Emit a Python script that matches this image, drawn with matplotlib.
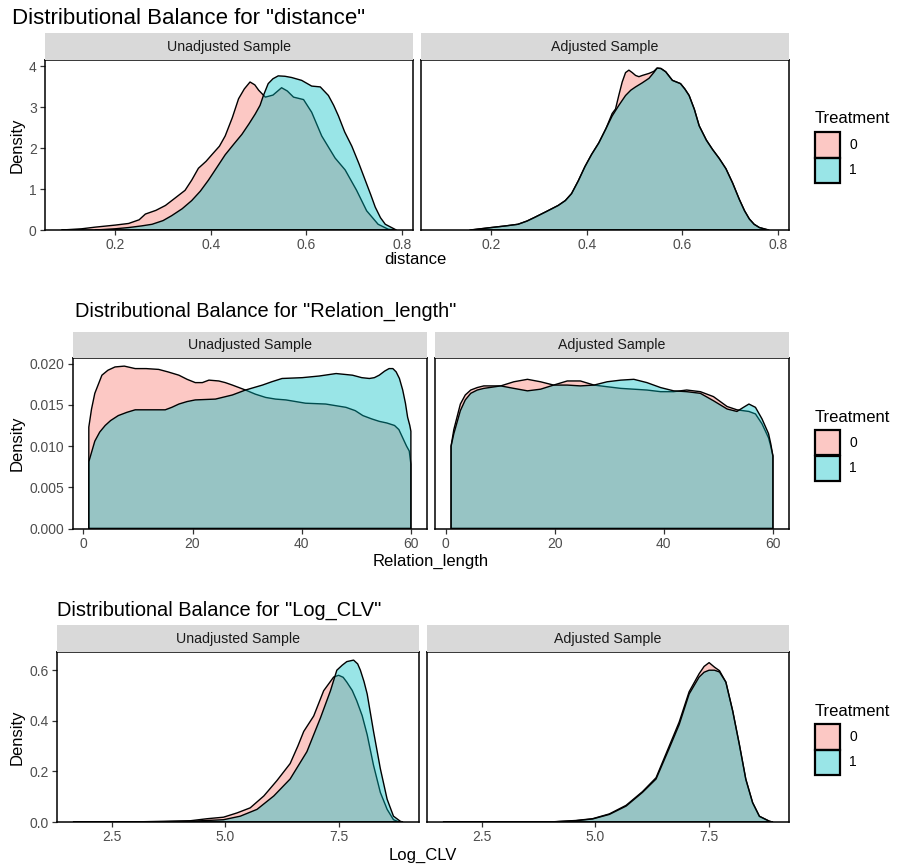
import matplotlib
matplotlib.use("Agg")
import matplotlib.pyplot as plt
from matplotlib.colors import to_rgba
from matplotlib.patches import Rectangle

plt.rcParams['font.family'] = ['Liberation Sans', 'DejaVu Sans']

# ---------------- data: density curves per treatment group ----------------
# distance
D_U0_X = [0.088, 0.13, 0.158, 0.20, 0.228, 0.25, 0.263, 0.285, 0.305, 0.325, 0.346, 0.36, 0.374, 0.39,
          0.402, 0.418, 0.43, 0.445, 0.458, 0.47, 0.482, 0.492, 0.50, 0.514, 0.53, 0.548, 0.56, 0.573,
          0.594, 0.611, 0.632, 0.66, 0.681, 0.705, 0.726, 0.75, 0.771, 0.785]
D_U0_Y = [0.0, 0.03, 0.07, 0.12, 0.16, 0.25, 0.39, 0.48, 0.60, 0.78, 0.97, 1.22, 1.51, 1.68,
          1.84, 2.05, 2.30, 2.75, 3.21, 3.45, 3.62, 3.55, 3.42, 3.25, 3.30, 3.48, 3.40, 3.25,
          3.19, 2.88, 2.30, 1.76, 1.47, 0.97, 0.47, 0.14, 0.02, 0.0]
D_U1_X = [0.158, 0.20, 0.228, 0.255, 0.277, 0.30, 0.318, 0.34, 0.36, 0.378, 0.395, 0.412, 0.43, 0.448,
          0.465, 0.48, 0.493, 0.503, 0.51, 0.52, 0.53, 0.541, 0.555, 0.569, 0.59, 0.611, 0.629, 0.646,
          0.657, 0.667, 0.68, 0.695, 0.71, 0.723, 0.735, 0.744, 0.755, 0.765, 0.788]
D_U1_Y = [0.0, 0.03, 0.06, 0.10, 0.14, 0.23, 0.35, 0.52, 0.72, 0.95, 1.22, 1.52, 1.84, 2.10,
          2.34, 2.60, 2.84, 3.05, 3.29, 3.58, 3.70, 3.77, 3.76, 3.73, 3.66, 3.52, 3.50, 3.29,
          3.05, 2.79, 2.40, 2.05, 1.62, 1.22, 0.85, 0.56, 0.30, 0.14, 0.0]
D_A0_X = [0.155, 0.20, 0.23, 0.256, 0.275, 0.291, 0.315, 0.34, 0.355, 0.368, 0.382, 0.396, 0.41, 0.425,
          0.44, 0.453, 0.46, 0.467, 0.474, 0.481, 0.488, 0.495, 0.502, 0.509, 0.516, 0.53, 0.54, 0.547,
          0.555, 0.565, 0.579, 0.596, 0.605, 0.614, 0.625, 0.635, 0.65, 0.663, 0.677, 0.691, 0.705,
          0.719, 0.73, 0.74, 0.75, 0.761, 0.779]
D_A0_Y = [0.0, 0.06, 0.10, 0.14, 0.22, 0.31, 0.45, 0.60, 0.72, 0.89, 1.20, 1.55, 1.85, 2.13,
          2.48, 2.85, 2.96, 3.30, 3.62, 3.85, 3.91, 3.85, 3.78, 3.75, 3.78, 3.83, 3.88, 3.96,
          3.95, 3.87, 3.66, 3.58, 3.45, 3.29, 2.95, 2.55, 2.20, 1.97, 1.75, 1.50, 1.15,
          0.75, 0.47, 0.27, 0.14, 0.06, 0.0]
D_A1_X = [0.158, 0.20, 0.23, 0.256, 0.275, 0.291, 0.315, 0.34, 0.355, 0.368, 0.382, 0.396, 0.41, 0.425,
          0.44, 0.453, 0.467, 0.481, 0.492, 0.502, 0.516, 0.53, 0.54, 0.547, 0.555, 0.565, 0.579,
          0.596, 0.605, 0.614, 0.625, 0.635, 0.65, 0.663, 0.677, 0.691, 0.705, 0.719, 0.73, 0.74,
          0.75, 0.761, 0.781]
D_A1_Y = [0.0, 0.06, 0.10, 0.14, 0.22, 0.31, 0.45, 0.60, 0.72, 0.89, 1.20, 1.55, 1.85, 2.13,
          2.48, 2.79, 3.05, 3.29, 3.42, 3.50, 3.60, 3.71, 3.85, 3.96, 3.95, 3.87, 3.66,
          3.58, 3.45, 3.29, 2.95, 2.55, 2.20, 1.97, 1.75, 1.50, 1.15, 0.75, 0.47, 0.27,
          0.14, 0.06, 0.0]

# Relation_length
R_U0_X = [1, 1.5, 2.1, 3.4, 4.5, 5.8, 7.5, 9.5, 11.5, 13.8, 15.5, 17.5, 19.0, 20.5, 21.8, 23.0, 24.8,
          26.0, 27.3, 29.7, 31.5, 33.4, 35.2, 37.1, 40.7, 44.4, 48.1, 49.8, 51.2, 52.8, 54.2, 55.6,
          57.0, 57.8, 58.5, 59.2, 59.7, 60]
R_U0_Y = [0.0123, 0.0145, 0.0164, 0.0186, 0.0192, 0.0196, 0.0197, 0.0194, 0.0194, 0.0193, 0.0190,
          0.0186, 0.0181, 0.0177, 0.0177, 0.0180, 0.0179, 0.0177, 0.0174, 0.0168, 0.0163, 0.0159,
          0.0157, 0.0156, 0.0152, 0.0151, 0.0147, 0.0143, 0.0137, 0.0133, 0.0130, 0.0128, 0.0125,
          0.0120, 0.0110, 0.0100, 0.0094, 0.0078]
R_U1_X = [1, 2.1, 3.0, 4.0, 5.0, 6.4, 8.0, 9.5, 12.6, 15.0, 16.2, 17.5, 19.0, 20.5, 24.2, 27.3, 29.7,
          32.8, 34.5, 36.4, 40.1, 43.2, 46.3, 49.3, 51.0, 52.4, 53.3, 54.2, 55.2, 56.0, 56.7, 57.3,
          57.9, 58.5, 59.0, 59.4, 59.8, 60]
R_U1_Y = [0.0081, 0.0106, 0.0117, 0.0125, 0.0131, 0.0137, 0.0141, 0.0144, 0.0144, 0.0144, 0.0147,
          0.0151, 0.0154, 0.0156, 0.0157, 0.0162, 0.0168, 0.0174, 0.0178, 0.0182, 0.0183, 0.0185,
          0.0188, 0.0186, 0.0183, 0.0182, 0.0183, 0.0186, 0.0191, 0.0194, 0.0194, 0.0190, 0.0182,
          0.0168, 0.0152, 0.0135, 0.0125, 0.0118]
R_A0_X = [1, 1.5, 2.7, 3.6, 4.6, 5.8, 7.0, 10.1, 12.5, 15.0, 17.4, 19.8, 22.3, 24.7, 27.2, 29.6, 32.1,
          34.5, 36.9, 39.4, 41.8, 44.2, 46.7, 49.1, 51.6, 53.4, 55.6, 56.8, 58.0, 59.2, 59.6, 60]
R_A0_Y = [0.0100, 0.0120, 0.0151, 0.0162, 0.0168, 0.0171, 0.0173, 0.0173, 0.0178, 0.0181, 0.0178,
          0.0174, 0.0179, 0.0179, 0.0174, 0.0172, 0.0170, 0.0169, 0.0168, 0.0166, 0.0166, 0.0168,
          0.0166, 0.0160, 0.0148, 0.0144, 0.0142, 0.0139, 0.0127, 0.0110, 0.0100, 0.0088]
R_A1_X = [1, 1.5, 2.7, 3.6, 4.6, 5.8, 7.0, 10.1, 12.5, 15.0, 17.4, 19.8, 22.3, 24.7, 27.2, 29.6, 32.1,
          34.5, 36.9, 39.4, 41.8, 44.2, 46.7, 49.1, 51.6, 53.4, 54.6, 55.6, 56.8, 58.0, 59.2, 59.6, 60]
R_A1_Y = [0.0100, 0.0115, 0.0143, 0.0156, 0.0164, 0.0168, 0.0170, 0.0173, 0.0170, 0.0167, 0.0169,
          0.0174, 0.0174, 0.0173, 0.0174, 0.0178, 0.0180, 0.0181, 0.0177, 0.0171, 0.0167, 0.0166,
          0.0164, 0.0155, 0.0145, 0.0142, 0.0147, 0.0151, 0.0147, 0.0133, 0.0115, 0.0103, 0.0088]

# Log_CLV
L_U0_X = [1.65, 3.0, 3.42, 4.23, 4.60, 4.96, 5.26, 5.55, 5.85, 6.14, 6.43, 6.60, 6.73, 6.95, 7.17, 7.39,
          7.50, 7.60, 7.68, 7.80, 7.90, 8.02, 8.13, 8.27, 8.42, 8.57, 8.71, 8.82, 8.91]
L_U0_Y = [0.0, 0.0005, 0.002, 0.005, 0.013, 0.019, 0.036, 0.056, 0.103, 0.164, 0.231, 0.30, 0.358,
          0.419, 0.519, 0.573, 0.580, 0.572, 0.553, 0.52, 0.479, 0.42, 0.345, 0.224, 0.117, 0.050,
          0.009, 0.001, 0.0]
L_U1_X = [1.65, 3.42, 4.23, 4.96, 5.33, 5.70, 6.07, 6.43, 6.80, 7.10, 7.32, 7.46, 7.58, 7.68, 7.83,
          7.92, 7.98, 8.06, 8.13, 8.27, 8.42, 8.57, 8.71, 8.86, 8.91]
L_U1_Y = [0.0, 0.0005, 0.003, 0.009, 0.023, 0.050, 0.103, 0.170, 0.278, 0.412, 0.519, 0.600, 0.620,
          0.634, 0.640, 0.625, 0.600, 0.555, 0.506, 0.358, 0.211, 0.090, 0.023, 0.003, 0.0]
L_A0_X = [1.65, 4.06, 4.57, 4.94, 5.31, 5.68, 6.04, 6.34, 6.63, 6.85, 7.07, 7.29, 7.40, 7.51, 7.63,
          7.74, 7.88, 8.03, 8.18, 8.32, 8.47, 8.62, 8.84, 8.91]
L_A0_Y = [0.0, 0.0008, 0.006, 0.013, 0.032, 0.066, 0.120, 0.175, 0.300, 0.395, 0.515, 0.586, 0.615,
          0.630, 0.612, 0.598, 0.553, 0.44, 0.303, 0.168, 0.076, 0.022, 0.003, 0.0]
L_A1_X = [1.65, 4.06, 4.57, 4.94, 5.31, 5.68, 6.04, 6.34, 6.63, 6.85, 7.07, 7.29, 7.40, 7.51, 7.63,
          7.74, 7.88, 8.03, 8.18, 8.32, 8.47, 8.62, 8.84, 8.91]
L_A1_Y = [0.0, 0.0005, 0.005, 0.012, 0.030, 0.063, 0.117, 0.170, 0.291, 0.385, 0.506, 0.573, 0.592,
          0.600, 0.600, 0.593, 0.553, 0.439, 0.305, 0.170, 0.077, 0.023, 0.003, 0.0]

FACETS = ["Unadjusted Sample", "Adjusted Sample"]
TREATMENTS = ["0", "1"]
COLORS = ["#F8766D", "#00BFC4"]

DIST_XTICKS = [0.2, 0.4, 0.6, 0.8]
DIST_YTICKS = [0, 1, 2, 3, 4]
REL_XTICKS = [0, 20, 40, 60]
REL_YTICKS = [0.0, 0.005, 0.010, 0.015, 0.020]
LOG_XTICKS = [2.5, 5.0, 7.5]
LOG_YTICKS = [0.0, 0.2, 0.4, 0.6]

# ---------------- figure ----------------
W, H = 898, 868
fig = plt.figure(figsize=(W / 100, H / 100), dpi=100)

TICK_COL = "#4D4D4D"
STRIP_COL = "#D9D9D9"


def fx(px):
    return px / W


def fy(py):
    return 1 - py / H


def draw_density(ax, xs, ys, color):
    xp = [xs[0]] + list(xs) + [xs[-1]]
    yp = [0.0] + list(ys) + [0.0]
    ax.fill(xp, yp, facecolor=to_rgba(color, 0.4), edgecolor="black",
            linewidth=1.0, joinstyle="round")


def draw_row(lay, title, xlabel, curves, xticks, xtickfmt, yticks, ytickfmt):
    # shared x range over both facets with 5% padding
    allx = [v for pair in curves for (cx, cy) in pair for v in cx]
    ally = [v for pair in curves for (cx, cy) in pair for v in cy]
    lo, hi = min(allx), max(allx)
    pad = 0.05 * (hi - lo)
    ytop = 1.05 * max(ally)

    fig.text(fx(lay["title_x"]), fy(lay["title_y"]), title, fontsize=lay["title_size"],
             ha="left", va="baseline", color="black")

    for k, (x0, x1) in enumerate(lay["cols"]):
        # strip
        fig.patches.append(Rectangle((fx(x0), fy(lay["ax_top"])), fx(x1) - fx(x0),
                                     fy(lay["strip_top"]) - fy(lay["ax_top"]),
                                     transform=fig.transFigure, facecolor=STRIP_COL,
                                     edgecolor="none"))
        fig.text((fx(x0) + fx(x1)) / 2, (fy(lay["strip_top"]) + fy(lay["ax_top"])) / 2,
                 FACETS[k], fontsize=10.2, ha="center", va="center", color="#1A1A1A")

        ax = fig.add_axes([fx(x0), fy(lay["ax_bot"]), fx(x1) - fx(x0),
                           fy(lay["ax_top"]) - fy(lay["ax_bot"])])
        for g, (cx, cy) in enumerate(curves[k]):
            draw_density(ax, cx, cy, COLORS[g])
        ax.set_xlim(lo - pad, hi + pad)
        ax.set_ylim(0, ytop)
        ax.set_xticks(xticks)
        ax.set_xticklabels([xtickfmt.format(t) for t in xticks])
        ax.set_yticks(yticks)
        if k == 0:
            ax.set_yticklabels([ytickfmt.format(t) for t in yticks])
        else:
            ax.tick_params(axis="y", left=False, labelleft=False)
        ax.tick_params(axis="both", direction="out", length=3.5, width=0.9,
                       color="#333333", labelcolor=TICK_COL, labelsize=10, pad=2.5)
        for sp in ax.spines.values():
            sp.set_color("black")
            sp.set_linewidth(1.1)

    # axis titles
    fig.text(fx(lay["xlab_x"]), fy(lay["xlab_y"]), xlabel, fontsize=12,
             ha="center", va="center", color="black")
    fig.text(fx(17), (fy(lay["ax_top"]) + fy(lay["ax_bot"])) / 2, "Density", fontsize=12,
             rotation=90, ha="center", va="center", color="black")

    # legend
    lx0, lx1 = 815, 840
    fig.text(fx(lx0), fy(lay["leg_title_y"]), "Treatment", fontsize=12,
             ha="left", va="baseline", color="black")
    ky = lay["key_top"]
    kh = 25.5
    for g in range(2):
        fig.patches.append(Rectangle((fx(lx0), fy(ky + (g + 1) * kh)), fx(lx1) - fx(lx0),
                                     fy(ky) - fy(ky + kh), transform=fig.transFigure,
                                     facecolor=to_rgba(COLORS[g], 0.4), edgecolor="black",
                                     linewidth=1.6))
        fig.text(fx(849), fy(ky + (g + 0.5) * kh), TREATMENTS[g], fontsize=10,
                 ha="left", va="center", color="black")


ROW1 = dict(title_x=12, title_y=24, title_size=16, strip_top=33, ax_top=60, ax_bot=230,
            cols=[(45, 413), (421, 789)], xlab_x=415, xlab_y=259,
            leg_title_y=123, key_top=132)
ROW2 = dict(title_x=75, title_y=317, title_size=14.4, strip_top=332, ax_top=358, ax_bot=528.5,
            cols=[(72.7, 427), (435, 789)], xlab_x=431, xlab_y=561,
            leg_title_y=422, key_top=430)
ROW3 = dict(title_x=57, title_y=616, title_size=14.4, strip_top=625, ax_top=652, ax_bot=822,
            cols=[(57, 419), (427, 789)], xlab_x=423, xlab_y=855,
            leg_title_y=716, key_top=724)

draw_row(ROW1, 'Distributional Balance for "distance"', "distance",
         [[(D_U0_X, D_U0_Y), (D_U1_X, D_U1_Y)], [(D_A0_X, D_A0_Y), (D_A1_X, D_A1_Y)]],
         DIST_XTICKS, "{:.1f}", DIST_YTICKS, "{:d}")
draw_row(ROW2, 'Distributional Balance for "Relation_length"', "Relation_length",
         [[(R_U0_X, R_U0_Y), (R_U1_X, R_U1_Y)], [(R_A0_X, R_A0_Y), (R_A1_X, R_A1_Y)]],
         REL_XTICKS, "{:d}", REL_YTICKS, "{:.3f}")
draw_row(ROW3, 'Distributional Balance for "Log_CLV"', "Log_CLV",
         [[(L_U0_X, L_U0_Y), (L_U1_X, L_U1_Y)], [(L_A0_X, L_A0_Y), (L_A1_X, L_A1_Y)]],
         LOG_XTICKS, "{:.1f}", LOG_YTICKS, "{:.1f}")

fig.savefig("out.png", dpi=100, facecolor="white")
